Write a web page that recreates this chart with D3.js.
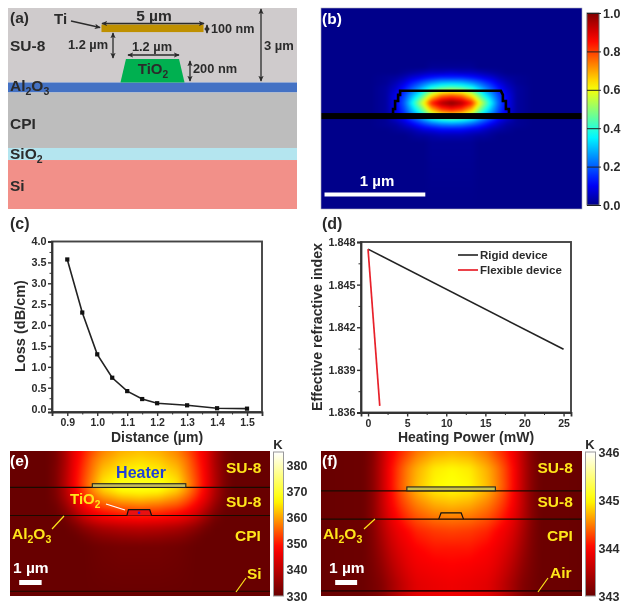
<!DOCTYPE html>
<html><head><meta charset="utf-8">
<style>html,body{margin:0;background:#fff}svg{display:block;filter:blur(.5px)}</style>
<script src="https://cdn.jsdelivr.net/npm/d3@7"></script></head>
<body><svg id="fig" width="624" height="604"></svg>
<script>
// ---------- data ----------
const lossDistance = [0.9,0.95,1.0,1.05,1.1,1.15,1.2,1.3,1.4,1.5];
const lossValues   = [3.57,2.3,1.3,0.74,0.42,0.23,0.13,0.08,0.01,0];
const lossXTicks = [0.9,1.0,1.1,1.2,1.3,1.4,1.5];
const lossYTicks = [0,0.5,1,1.5,2,2.5,3,3.5,4];
const rigidPower = [0,25];
const rigidIndex = [1.8475,1.84045];
const flexPower  = [0,1.5];
const flexIndex  = [1.8475,1.83647];
const indexTicks = [1.836,1.839,1.842,1.845,1.848];
const powerTicks = [0,5,10,15,20,25];
const modeTicks = [0,0.2,0.4,0.6,0.8,1.0];
const heatETicks = [330,340,350,360,370,380];
const heatFTicks = [343,344,345,346];

// schematic (a): layer boundaries in diagram units
const layerNames = ["SU-8","Al2O3","CPI","SiO2","Si"];
const layerTops  = [0,3.65,4.14,6.86,7.45];
const layerEnds  = [3.65,4.14,6.86,7.45,9.85];
const layerFills = ["#cfcbcc","#4472c4","#bdbdbd","#b4e5ef","#f29089"];

// mode field (b): offsets from waveguide centre (um), depth from top (um), normalised |E|^2
const modeOffsets = [0,.1,.2,.27,.33,.4,.47,.55,.65,.8,1.3];
const modeDepths  = [.51,.59,.64,.69,.74,.79,.86,.94,1.02,1.07,1.11,1.16,1.21,1.26,1.33,1.99];
const modeField = [
 [0,0,0,0,0,0,0,0,0,0,0],
 [.01,.01,.01,0,0,0,0,0,0,0,0],
 [.06,.05,.05,.04,.03,.02,.01,0,0,0,0],
 [.15,.15,.13,.11,.09,.07,.04,.02,.01,0,0],
 [.3,.29,.25,.21,.17,.13,.08,.04,.01,0,0],
 [.45,.43,.38,.3,.24,.18,.12,.06,.02,0,0],
 [.75,.72,.6,.46,.35,.26,.17,.09,.02,0,0],
 [1,.95,.83,.62,.49,.34,.2,.1,.02,0,0],
 [.8,.76,.64,.48,.37,.27,.17,.09,.02,0,0],
 [.55,.52,.45,.35,.27,.2,.13,.07,.02,0,0],
 [.38,.36,.31,.25,.2,.15,.09,.05,.01,0,0],
 [.22,.21,.18,.15,.12,.08,.05,.02,.01,0,0],
 [.1,.1,.08,.07,.05,.03,.02,.01,0,0,0],
 [.04,.04,.03,.02,.02,.01,0,0,0,0,0],
 [.01,.01,.01,0,0,0,0,0,0,0,0],
 [0,0,0,0,0,0,0,0,0,0,0]];
const guideOutlineX = [-.58,-.58,-.56,-.56,-.53,-.53,-.51,-.51,.49,.51,.51,.54,.54,.57,.57];
const guideOutlineY = [1.04,1.0,1.0,.92,.92,.86,.86,.82,.82,.86,.92,.92,1.0,1.0,1.04];

// thermal field (e): rigid device, fraction of 330-385 K
const heatOffsets = [0,1,2,2.5,3,3.5,4,4.5,5,7.4];
const heatEDepths = [0,.5,1,1.7,2.1,2.5,2.9,3.25,3.7,4.1,4.6,5.1,7.8];
const heatEField = [
 [.58,.56,.50,.44,.37,.29,.15,.04,0,0],
 [.62,.60,.54,.48,.39,.30,.15,.04,0,0],
 [.66,.64,.58,.50,.41,.31,.16,.05,0,0],
 [.70,.69,.63,.53,.43,.32,.17,.05,0,0],
 [.68,.67,.60,.52,.42,.31,.16,.05,0,0],
 [.60,.58,.52,.46,.38,.28,.14,.04,0,0],
 [.50,.48,.44,.39,.32,.22,.10,.02,0,0],
 [.41,.40,.36,.32,.26,.16,.06,.01,0,0],
 [.31,.30,.27,.23,.17,.09,.02,0,0,0],
 [.19,.18,.15,.12,.08,.03,0,0,0,0],
 [.10,.09,.07,.05,.02,0,0,0,0,0],
 [.03,.03,.02,.01,0,0,0,0,0,0],
 [0,0,0,0,0,0,0,0,0,0]];
// thermal field (f): flexible device, fraction of 343-346 K
const heatFDepths = [0,1,2,3,3.9,4.5,5.5,6.5,7.5,8.2];
const heatFField = [
 [.56,.54,.48,.42,.37,.30,.18,.06,.01,0],
 [.66,.64,.56,.50,.42,.33,.19,.07,.01,0],
 [.68,.66,.58,.51,.43,.33,.19,.07,.01,0],
 [.58,.56,.50,.45,.39,.31,.19,.07,.01,0],
 [.48,.47,.43,.39,.34,.27,.17,.07,.01,0],
 [.42,.41,.38,.34,.30,.24,.15,.06,.01,0],
 [.36,.36,.33,.30,.26,.20,.12,.05,.01,0],
 [.33,.32,.30,.27,.22,.16,.09,.04,.01,0],
 [.30,.29,.27,.23,.18,.12,.06,.03,.01,0],
 [.30,.29,.27,.23,.18,.12,.06,.03,.01,0]];

// ---------- helpers ----------
const svg = d3.select("#fig");
const FONT = "'Liberation Sans',Arial,sans-serif";
const INK = "#2b2b2b";
function txt(x,y,parts,o={}){
  const t = svg.append("text").attr("x",x).attr("y",y).attr("font-family",FONT)
    .attr("font-weight",o.weight||"bold").attr("font-size",o.size||14)
    .attr("fill",o.fill||INK).attr("text-anchor",o.anchor||"start");
  if(o.rotate!==undefined) t.attr("transform",`rotate(${o.rotate} ${x} ${y})`);
  if(typeof parts==="string") parts=[parts];
  let lowered=false;
  parts.forEach(p=>{
    const sub=Array.isArray(p);
    const s=t.append("tspan").text(sub?p[0]:p);
    if(sub){s.attr("font-size",(o.size||14)*.68).attr("dy",4);lowered=true;}
    else if(lowered){s.attr("dy",-4);lowered=false;}
  });
  return t;
}
function seg(x1,y1,x2,y2,stroke,w){
  svg.append("line").attr("x1",x1).attr("y1",y1).attr("x2",x2).attr("y2",y2)
    .attr("stroke",stroke||INK).attr("stroke-width",w||1);
}
const defs = svg.append("defs");
defs.append("marker").attr("id","ah").attr("viewBox","0 0 8 8").attr("refX",7).attr("refY",4)
  .attr("markerWidth",6).attr("markerHeight",6).attr("orient","auto-start-reverse").attr("markerUnits","userSpaceOnUse")
  .append("path").attr("d","M0,0.5L8,4L0,7.5L2,4Z").attr("fill",INK);
function arrow(x1,y1,x2,y2,both){
  const l=svg.append("line").attr("x1",x1).attr("y1",y1).attr("x2",x2).attr("y2",y2)
    .attr("stroke",INK).attr("stroke-width",1.3).attr("marker-end","url(#ah)");
  if(both) l.attr("marker-start","url(#ah)");
}
const jet = d3.scaleLinear().domain([0,.11,.36,.61,.86,1])
  .range(["#00008a","#0000ff","#00ffff","#ffff00","#ff0000","#7f0000"]).clamp(true);
const thermal = d3.scaleLinear().domain([0,1/3,2/3,1])
  .range(["#680000","#ff0000","#ffff00","#ffffff"]).clamp(true);

function drawField(rect,x,y,offsets,depths,grid,color,blur){
  const W=rect.x1-rect.x0,H=rect.y1-rect.y0;
  const c=document.createElement("canvas");c.width=W;c.height=H;
  const g=c.getContext("2d");const img=g.createImageData(W,H);
  const xp=d3.scaleLinear().domain(offsets).clamp(true), yp=d3.scaleLinear().domain(depths).clamp(true);
  xp.range(offsets.map((_,i)=>i));yp.range(depths.map((_,i)=>i));
  for(let j=0;j<H;j++){
    const fy=yp(y.invert(rect.y0+j+.5));const r0=Math.min(Math.floor(fy),depths.length-2);const ty=fy-r0;
    for(let i=0;i<W;i++){
      const fx=xp(Math.abs(x.invert(rect.x0+i+.5)));const c0=Math.min(Math.floor(fx),offsets.length-2);const tx=fx-c0;
      const v=(grid[r0][c0]*(1-tx)+grid[r0][c0+1]*tx)*(1-ty)+(grid[r0+1][c0]*(1-tx)+grid[r0+1][c0+1]*tx)*ty;
      const col=d3.rgb(color(v));const k=(j*W+i)*4;
      img.data[k]=col.r;img.data[k+1]=col.g;img.data[k+2]=col.b;img.data[k+3]=255;
    }
  }
  g.putImageData(img,0,0);
  const out=document.createElement("canvas");out.width=W;out.height=H;
  const o=out.getContext("2d");o.drawImage(c,0,0);o.filter=`blur(${blur}px)`;o.drawImage(c,0,0);
  svg.append("image").attr("x",rect.x0).attr("y",rect.y0).attr("width",W).attr("height",H)
    .attr("href",out.toDataURL());
}
let gid=0;
function colorbar(x0,x1,y0,y1,domain,ticks,color,fmt,o={}){
  const id="cb"+(gid++);
  const gr=defs.append("linearGradient").attr("id",id).attr("x1",0).attr("x2",0).attr("y1",1).attr("y2",0);
  d3.range(0,1.001,.05).forEach(t=>gr.append("stop").attr("offset",t).attr("stop-color",color(t)));
  svg.append("rect").attr("x",x0).attr("y",y0).attr("width",x1-x0).attr("height",y1-y0)
    .attr("fill",`url(#${id})`).attr("stroke",o.frame||"#bbb").attr("stroke-width",1);
  const s=d3.scaleLinear().domain(domain).range([y1,y0]);
  const ax=svg.append("g").attr("transform",`translate(${x1},0)`)
    .call(d3.axisRight(s).tickValues(ticks).tickFormat(fmt).tickSizeOuter(0).tickSizeInner(o.tick||0).tickPadding(o.pad||3));
  ax.select(".domain").remove();
  ax.selectAll("text").attr("font-family",FONT).attr("font-weight","bold").attr("font-size",o.size||12).attr("fill",INK);
  if(o.cross) ax.selectAll("line").attr("x1",-(x1-x0)).attr("x2",2).attr("stroke","#222").attr("stroke-width",1);
  return s;
}
function styleAxis(g,size){
  g.select(".domain").attr("stroke","#333").attr("stroke-width",1.8);
  g.selectAll("line").attr("stroke","#333").attr("stroke-width",1.4);
  g.selectAll("text").attr("font-family",FONT).attr("font-weight","bold").attr("font-size",size).attr("fill",INK);
}
function plotFrame(r,x,y,xTicks,yTicks,xMinor,yMinor,xFmt,yFmt){
  svg.append("rect").attr("x",r.x0).attr("y",r.y0).attr("width",r.x1-r.x0).attr("height",r.y1-r.y0)
    .attr("fill","#fff").attr("stroke","#444").attr("stroke-width",1.9);
  const gx=svg.append("g").attr("transform",`translate(0,${r.y1})`)
    .call(d3.axisBottom(x).tickValues(xTicks).tickFormat(xFmt).tickSizeOuter(0).tickSize(4).tickPadding(3));
  const gy=svg.append("g").attr("transform",`translate(${r.x0},0)`)
    .call(d3.axisLeft(y).tickValues(yTicks).tickFormat(yFmt).tickSizeOuter(0).tickSize(4).tickPadding(1.5));
  styleAxis(gx,10.5);styleAxis(gy,10.8);
  svg.append("g").attr("transform",`translate(0,${r.y1})`)
    .call(d3.axisBottom(x).tickValues(xMinor).tickFormat("").tickSizeOuter(0).tickSize(2.5))
    .call(g=>{g.select(".domain").remove();g.selectAll("line").attr("stroke","#333");});
  svg.append("g").attr("transform",`translate(${r.x0},0)`)
    .call(d3.axisLeft(y).tickValues(yMinor).tickFormat("").tickSizeOuter(0).tickSize(2.5))
    .call(g=>{g.select(".domain").remove();g.selectAll("line").attr("stroke","#333");});
}

// ---------- (a) schematic ----------
const ax=d3.scaleLinear().domain([-7.08,7.08]).range([8,297]);
const ay=d3.scaleLinear().domain([0,9.85]).range([8,209]);
layerNames.forEach((n,i)=>svg.append("rect").attr("x",ax(-7.08)).attr("width",ax(7.08)-ax(-7.08))
  .attr("y",ay(layerTops[i])).attr("height",ay(layerEnds[i])-ay(layerTops[i])).attr("fill",layerFills[i]));
svg.append("rect").attr("x",ax(-2.5)).attr("width",ax(2.5)-ax(-2.5)).attr("y",ay(.81)).attr("height",ay(1.18)-ay(.81)).attr("fill","#bf9000");
svg.append("path").attr("fill","#00b050").attr("d",d3.line().x(d=>ax(d[0])).y(d=>ay(d[1]))([[-1.3,2.5],[1.3,2.5],[1.57,3.65],[-1.57,3.65]])+"Z");
txt(10,23,"(a)",{size:15.5});
txt(54,24,"Ti",{size:15});
arrow(71,21,100,27.5);
txt(154,21,"5 µm",{size:15.5,anchor:"middle"});
arrow(102,23.5,204,23.5,true);
arrow(207,25,207,33,true);
txt(211,33,"100 nm",{size:12.6});
txt(10,51,"SU-8",{size:15.5});
txt(68,49,"1.2 µm",{size:12.8});
arrow(113,33,113,58,true);
txt(152,51,"1.2 µm",{size:12.8,anchor:"middle"});
arrow(128,55,179,55,true);
txt(153,74,["TiO",["2"]],{size:15,anchor:"middle"});
arrow(190,61,190,81,true);
txt(193,73,"200 nm",{size:12.8});
arrow(261,9,261,81,true);
txt(264,50,"3 µm",{size:13});
txt(10,91,["Al",["2"],"O",["3"]],{size:15.5});
txt(10,129,"CPI",{size:15.5});
txt(10,159,["SiO",["2"]],{size:15.5});
txt(10,191,"Si",{size:15.5});

// ---------- (b) mode ----------
const bRect={x0:321,x1:582,y0:8,y1:209};
const bx=d3.scaleLinear().domain([-1.29,1.29]).range([321.5,581.5]);
const by=d3.scaleLinear().domain([0,1.99]).range([8,209]);
drawField(bRect,bx,by,modeOffsets,modeDepths,modeField,jet,1.5);
svg.append("rect").attr("x",bRect.x0).attr("y",by(1.04)).attr("width",bRect.x1-bRect.x0).attr("height",6).attr("fill","#000");
svg.append("path").attr("fill","none").attr("stroke","#000").attr("stroke-width",2.6)
  .attr("d",d3.line().x((d,i)=>bx(d)).y((d,i)=>by(guideOutlineY[i]))(guideOutlineX));
svg.append("rect").attr("x",bRect.x0).attr("y",bRect.y0).attr("width",bRect.x1-bRect.x0).attr("height",bRect.y1-bRect.y0).attr("fill","none").attr("stroke","#aab").attr("stroke-width",.6);
txt(322,24,"(b)",{size:15.5,fill:"#fff"});
txt(377,186,"1 µm",{size:15,fill:"#fff",anchor:"middle"});
svg.append("rect").attr("x",bx(-1.26)).attr("y",192.5).attr("width",bx(-.26)-bx(-1.26)).attr("height",4).attr("fill","#fff");
colorbar(587,599,13,205,[0,1],modeTicks,jet,d3.format(".1f"),{cross:true,tick:2,pad:2,size:12.5,frame:"#666"});

// ---------- (c) loss ----------
const cRect={x0:52,x1:262,y0:241.5,y1:412};
const cx=d3.scaleLinear().domain([.849,1.55]).range([cRect.x0,cRect.x1]);
const cy=d3.scaleLinear().domain([-.08,4]).range([cRect.y1,cRect.y0]);
plotFrame(cRect,cx,cy,lossXTicks,lossYTicks,[.95,1.05,1.15,1.25,1.35,1.45],d3.range(.25,4,.5),d3.format(".1f"),d3.format(".1f"));
const lossPts=lossDistance.map((d,i)=>[d,lossValues[i]]);
svg.append("path").attr("fill","none").attr("stroke","#222").attr("stroke-width",1.6)
  .attr("d",d3.line().x(d=>cx(d[0])).y(d=>cy(d[1]))(lossPts));
svg.selectAll("rect.pt").data(lossPts).join("rect").attr("class","pt")
  .attr("x",d=>cx(d[0])-2.1).attr("y",d=>cy(d[1])-2.1).attr("width",4.2).attr("height",4.2).attr("fill","#111");
txt(10,229,"(c)",{size:16});
txt(25,326,"Loss (dB/cm)",{size:14.5,anchor:"middle",rotate:-90});
txt(157,442,"Distance (µm)",{size:14,anchor:"middle"});

// ---------- (d) index ----------
const dRect={x0:361,x1:571,y0:242,y1:412.5};
const dx=d3.scaleLinear().domain([-.9,25.95]).range([dRect.x0,dRect.x1]);
const dy=d3.scaleLinear().domain([1.836,1.848]).range([dRect.y1,dRect.y0]);
plotFrame(dRect,dx,dy,powerTicks,indexTicks,[2.5,7.5,12.5,17.5,22.5],[1.8375,1.8405,1.8435,1.8465],d3.format("d"),d3.format(".3f"));
const lineD=d3.line().x(d=>dx(d[0])).y(d=>dy(d[1]));
svg.append("path").attr("fill","none").attr("stroke","#222").attr("stroke-width",1.6).attr("d",lineD(rigidPower.map((p,i)=>[p,rigidIndex[i]])));
svg.append("path").attr("fill","none").attr("stroke","#e8202a").attr("stroke-width",1.7).attr("d",lineD(flexPower.map((p,i)=>[p,flexIndex[i]])));
seg(458,255,478,255,"#222",1.6);
seg(458,270,478,270,"#e8202a",1.7);
txt(480,259,"Rigid device",{size:11.5});
txt(480,274,"Flexible device",{size:11.5});
txt(322,229,"(d)",{size:16});
txt(322,327,"Effective refractive index",{size:14.2,anchor:"middle",rotate:-90});
txt(466,442,"Heating Power (mW)",{size:14,anchor:"middle"});

// ---------- (e) ----------
const eRect={x0:10,x1:270,y0:451,y1:596};
const ex=d3.scaleLinear().domain([0,1]).range([140,158.7]);
const ey=d3.scaleLinear().domain([0,1]).range([451,469.7]);
drawField(eRect,ex,ey,heatOffsets,heatEDepths,heatEField,thermal,2);
[1.95,3.45,7.5].forEach(d=>seg(eRect.x0,ey(d),eRect.x1,ey(d),"#1a0a00",1.2));
svg.append("rect").attr("x",ex(-2.55)).attr("width",ex(2.45)-ex(-2.55)).attr("y",ey(1.75)).attr("height",ey(1.95)-ey(1.75)).attr("fill","#c6bd5a").attr("stroke","#222").attr("stroke-width",1.1);
svg.append("path").attr("fill","#e81010").attr("stroke","#111").attr("stroke-width",1.2)
  .attr("d",d3.line().x(d=>ex(d[0])).y(d=>ey(d[1]))([[-.7,3.45],[-.62,3.14],[.52,3.14],[.62,3.45]]));
svg.append("circle").attr("cx",ex(-.05)).attr("cy",ey(3.3)).attr("r",1.3).attr("fill","#2020d0");
txt(141,478,"Heater",{size:16,fill:"#1f3fd8",anchor:"middle"});
const Y="#ffe61a";
txt(226,473,"SU-8",{size:15.5,fill:Y});
txt(226,507,"SU-8",{size:15.5,fill:Y});
txt(70,504,["TiO",["2"]],{size:15,fill:Y});
seg(106,504,125,510,"#fff",1.3);
txt(12,539,["Al",["2"],"O",["3"]],{size:15.5,fill:Y});
seg(52,529,64,516,Y,1.2);
txt(235,541,"CPI",{size:15.5,fill:Y});
txt(13,573,"1 µm",{size:15.5,fill:"#fff"});
svg.append("rect").attr("x",ex(-6.46)).attr("y",580).attr("width",ex(-5.26)-ex(-6.46)).attr("height",5).attr("fill","#fff");
txt(247,579,"Si",{size:15.5,fill:Y});
seg(236,592,246,578,Y,1.2);
txt(10,466,"(e)",{size:15.5,fill:"#fff"});
colorbar(273.5,283.5,452,596,[330,385],heatETicks,thermal,d3.format("d"),{pad:3,size:12.5,frame:"#999"});
txt(278,449,"K",{size:13,anchor:"middle"});

// ---------- (f) ----------
const fRect={x0:321,x1:582,y0:451,y1:596};
const fxs=d3.scaleLinear().domain([0,1]).range([452,469.7]);
const fys=d3.scaleLinear().domain([0,1]).range([451,468.7]);
drawField(fRect,fxs,fys,heatOffsets,heatFDepths,heatFField,thermal,2);
[2.25,3.85].forEach(d=>seg(fRect.x0,fys(d),fRect.x1,fys(d),"#1a0a00",1.2));
seg(fRect.x0,fys(7.9),fRect.x1,fys(7.9),"#300000",1.8);
svg.append("rect").attr("x",fxs(-2.55)).attr("width",fxs(2.45)-fxs(-2.55)).attr("y",fys(2.03)).attr("height",fys(2.25)-fys(2.03)).attr("fill","#c9c24a").attr("stroke","#222").attr("stroke-width",1.1);
svg.append("path").attr("fill","none").attr("stroke","#111").attr("stroke-width",1.2)
  .attr("d",d3.line().x(d=>fxs(d[0])).y(d=>fys(d[1]))([[-.75,3.85],[-.62,3.5],[.52,3.5],[.65,3.85]]));
txt(537.5,473,"SU-8",{size:15.5,fill:Y});
txt(537.5,507,"SU-8",{size:15.5,fill:Y});
txt(323,539,["Al",["2"],"O",["3"]],{size:15.5,fill:Y});
seg(364,529,375,519,Y,1.2);
txt(547,541,"CPI",{size:15.5,fill:Y});
txt(329,573,"1 µm",{size:15.5,fill:"#fff"});
svg.append("rect").attr("x",fxs(-6.6)).attr("y",580).attr("width",fxs(-5.36)-fxs(-6.6)).attr("height",5).attr("fill","#fff");
txt(550,578,"Air",{size:15.5,fill:Y});
seg(538,592,548,578,Y,1.2);
txt(322,466,"(f)",{size:15.5,fill:"#fff"});
colorbar(585.5,595.5,452,596,[343,346],heatFTicks,thermal,d3.format("d"),{pad:3,size:12.5,frame:"#999"});
txt(590,449,"K",{size:13,anchor:"middle"});
</script></body></html>
